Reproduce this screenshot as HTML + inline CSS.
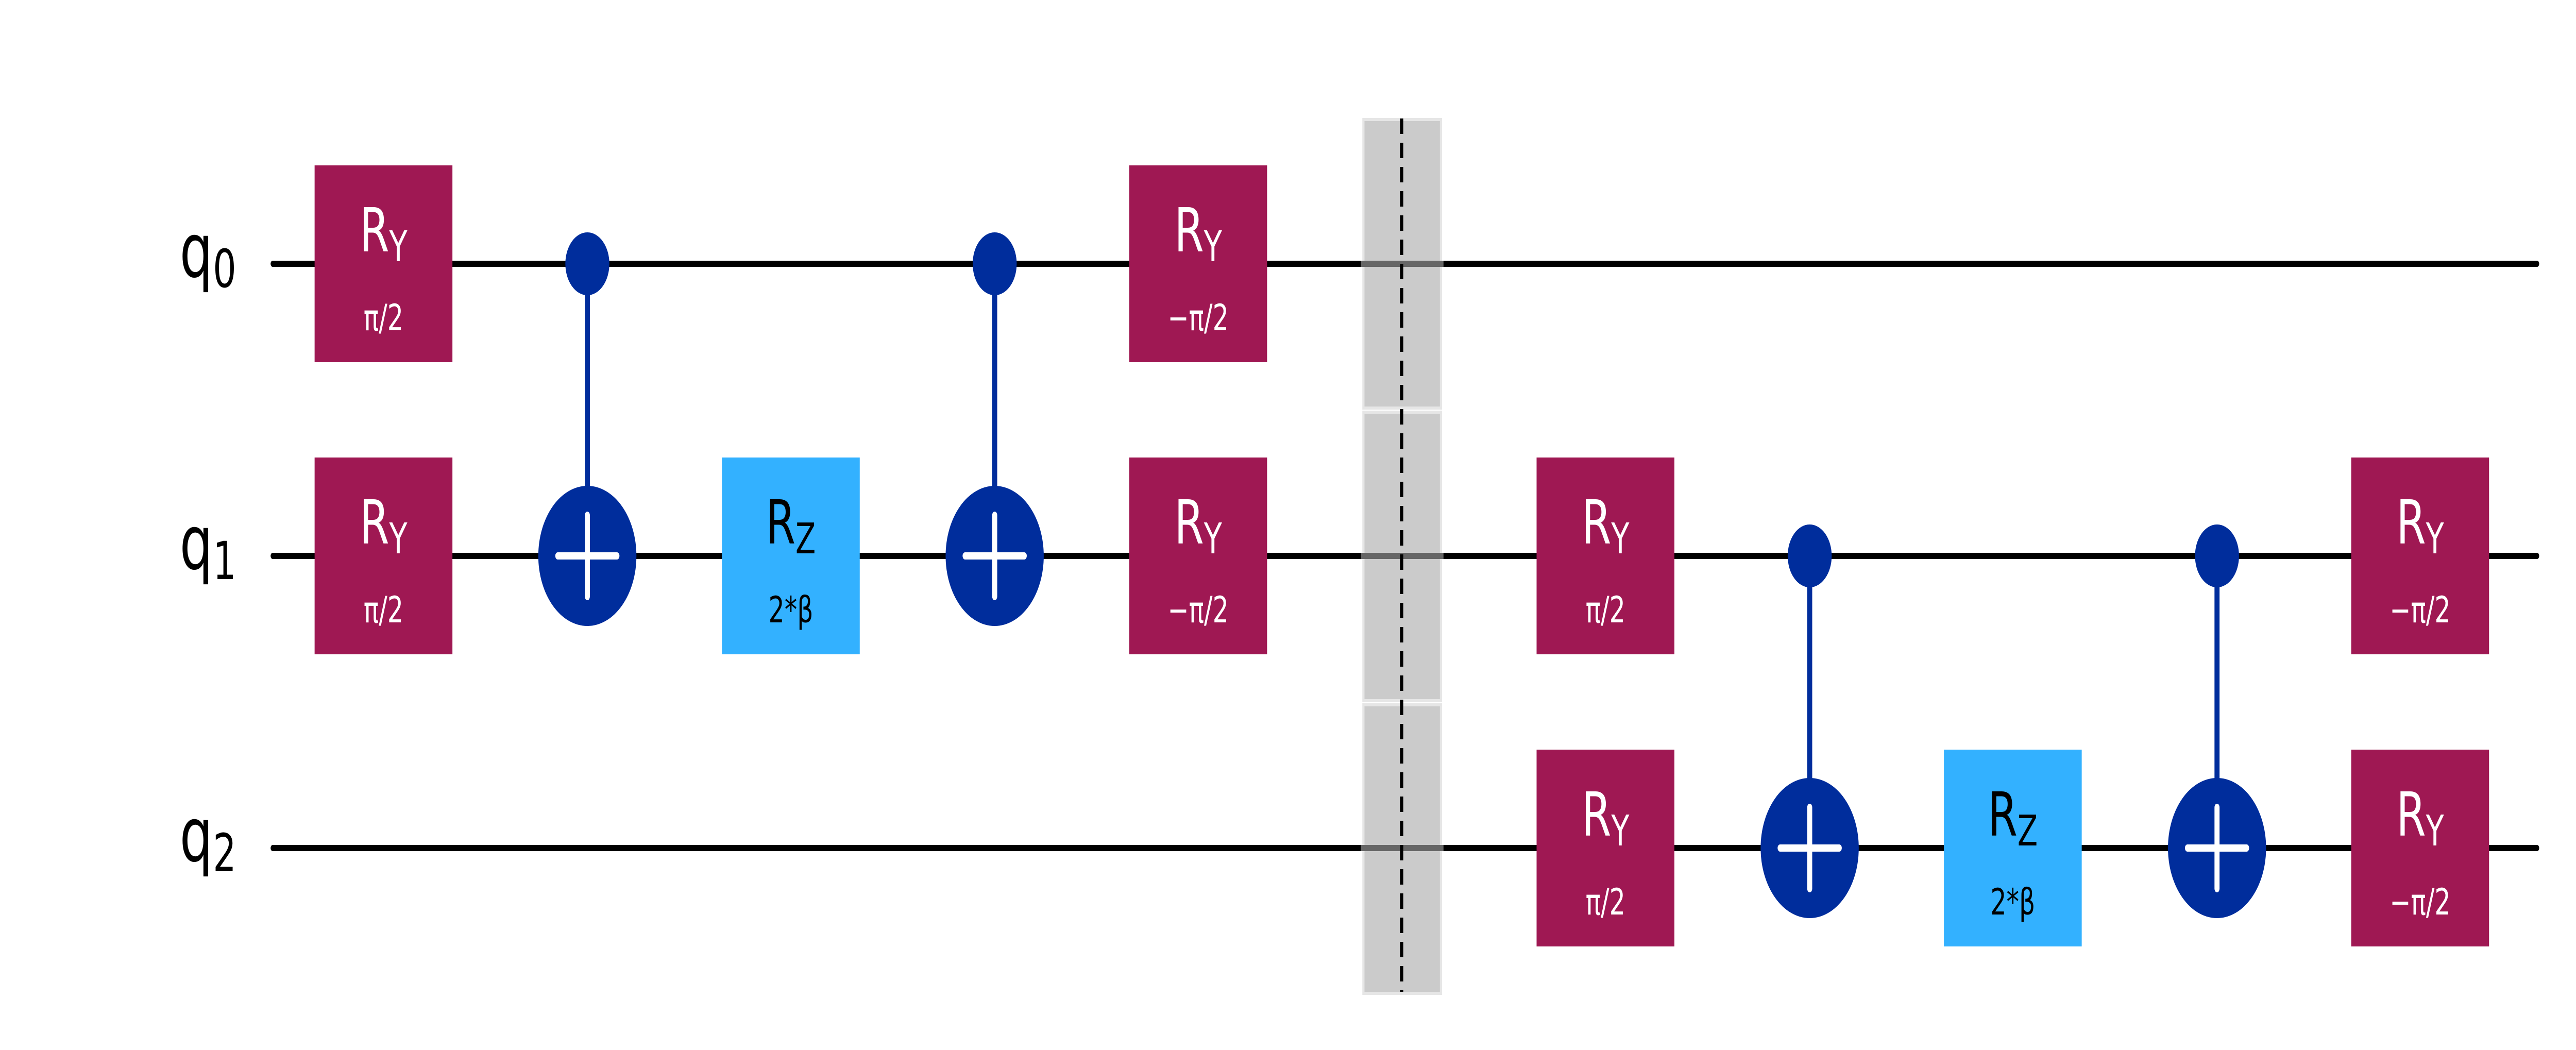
<!DOCTYPE html>
<html><head><meta charset="utf-8"><style>html,body{margin:0;padding:0;background:#fff;width:100%;height:100%;overflow:hidden}svg{display:block;width:100vw;height:100vh}</style></head>
<body>
<svg viewBox="0 0 7140 2038" preserveAspectRatio="none" xmlns="http://www.w3.org/2000/svg" font-family="DejaVu Sans, Liberation Sans, sans-serif">
<rect width="7140" height="2038" fill="#fff"/>
<g stroke="#000" stroke-width="12" stroke-linecap="round">
<line x1="756" y1="512" x2="7032" y2="512"/>
<line x1="756" y1="1079" x2="7032" y2="1079"/>
<line x1="756" y1="1646" x2="7032" y2="1646"/>
</g>
<g font-size="145" fill="#000">
<text x="498" y="537">q<tspan font-size="102" dy="20">0</tspan></text>
<text x="498" y="1104">q<tspan font-size="102" dy="20">1</tspan></text>
<text x="498" y="1671">q<tspan font-size="102" dy="20">2</tspan></text>
</g>
<g>
<rect x="3779" y="232" width="215" height="560" fill="#c8c8c8" stroke="#e6e6e6" stroke-width="6" fill-opacity="0.95"/>
<rect x="3779" y="800" width="215" height="560" fill="#c8c8c8" stroke="#e6e6e6" stroke-width="6" fill-opacity="0.95"/>
<rect x="3779" y="1368" width="215" height="560" fill="#c8c8c8" stroke="#e6e6e6" stroke-width="6" fill-opacity="0.95"/>
<g stroke="#666" stroke-width="12"><line x1="3772" y1="512" x2="4001" y2="512"/><line x1="3772" y1="1079" x2="4001" y2="1079"/><line x1="3772" y1="1646" x2="4001" y2="1646"/></g>
<line x1="3885" y1="230" x2="3885" y2="1925" stroke="#000" stroke-width="9" stroke-dasharray="30,17"/>
</g>
<g stroke="#002D9C" stroke-width="14">
<line x1="1628" y1="512" x2="1628" y2="1079"/>
<line x1="2757" y1="512" x2="2757" y2="1079"/>
<line x1="5016" y1="1079" x2="5016" y2="1646"/>
<line x1="6145" y1="1079" x2="6145" y2="1646"/>
</g>
<g fill="#002D9C">
<circle cx="1628" cy="512" r="61"/><circle cx="2757" cy="512" r="61"/>
<circle cx="5016" cy="1079" r="61"/><circle cx="6145" cy="1079" r="61"/>
<circle cx="1628" cy="1079" r="136"/><circle cx="2757" cy="1079" r="136"/>
<circle cx="5016" cy="1646" r="136"/><circle cx="6145" cy="1646" r="136"/>
</g>
<g stroke="#fff" stroke-width="14" stroke-linecap="round">
<line x1="1546" y1="1079" x2="1710" y2="1079"/><line x1="1628" y1="1000" x2="1628" y2="1158"/>
<line x1="2675" y1="1079" x2="2839" y2="1079"/><line x1="2757" y1="1000" x2="2757" y2="1158"/>
<line x1="4934" y1="1646" x2="5098" y2="1646"/><line x1="5016" y1="1567" x2="5016" y2="1725"/>
<line x1="6063" y1="1646" x2="6227" y2="1646"/><line x1="6145" y1="1567" x2="6145" y2="1725"/>
</g>
<g fill="#fff" text-anchor="middle">
<rect x="872" y="321" width="382" height="382" fill="#9F1853"/>
<text x="1063" y="488" font-size="118">R<tspan font-size="82" dy="19">Y</tspan></text>
<text x="1063" y="641" font-size="70">π/2</text>
<rect x="872" y="888" width="382" height="382" fill="#9F1853"/>
<text x="1063" y="1055" font-size="118">R<tspan font-size="82" dy="19">Y</tspan></text>
<text x="1063" y="1208" font-size="70">π/2</text>
<rect x="2001" y="888" width="382" height="382" fill="#33B1FF"/>
<text x="2192" y="1055" font-size="118" fill="#000">R<tspan font-size="82" dy="19">Z</tspan></text>
<text x="2192" y="1208" font-size="70" fill="#000">2*β</text>
<rect x="3130" y="321" width="382" height="382" fill="#9F1853"/>
<text x="3321" y="488" font-size="118">R<tspan font-size="82" dy="19">Y</tspan></text>
<text x="3321" y="641" font-size="70">−π/2</text>
<rect x="3130" y="888" width="382" height="382" fill="#9F1853"/>
<text x="3321" y="1055" font-size="118">R<tspan font-size="82" dy="19">Y</tspan></text>
<text x="3321" y="1208" font-size="70">−π/2</text>
<rect x="4259" y="888" width="382" height="382" fill="#9F1853"/>
<text x="4450" y="1055" font-size="118">R<tspan font-size="82" dy="19">Y</tspan></text>
<text x="4450" y="1208" font-size="70">π/2</text>
<rect x="4259" y="1455" width="382" height="382" fill="#9F1853"/>
<text x="4450" y="1622" font-size="118">R<tspan font-size="82" dy="19">Y</tspan></text>
<text x="4450" y="1775" font-size="70">π/2</text>
<rect x="5388" y="1455" width="382" height="382" fill="#33B1FF"/>
<text x="5579" y="1622" font-size="118" fill="#000">R<tspan font-size="82" dy="19">Z</tspan></text>
<text x="5579" y="1775" font-size="70" fill="#000">2*β</text>
<rect x="6517" y="888" width="382" height="382" fill="#9F1853"/>
<text x="6708" y="1055" font-size="118">R<tspan font-size="82" dy="19">Y</tspan></text>
<text x="6708" y="1208" font-size="70">−π/2</text>
<rect x="6517" y="1455" width="382" height="382" fill="#9F1853"/>
<text x="6708" y="1622" font-size="118">R<tspan font-size="82" dy="19">Y</tspan></text>
<text x="6708" y="1775" font-size="70">−π/2</text>
</g>
</svg>
</body></html>
